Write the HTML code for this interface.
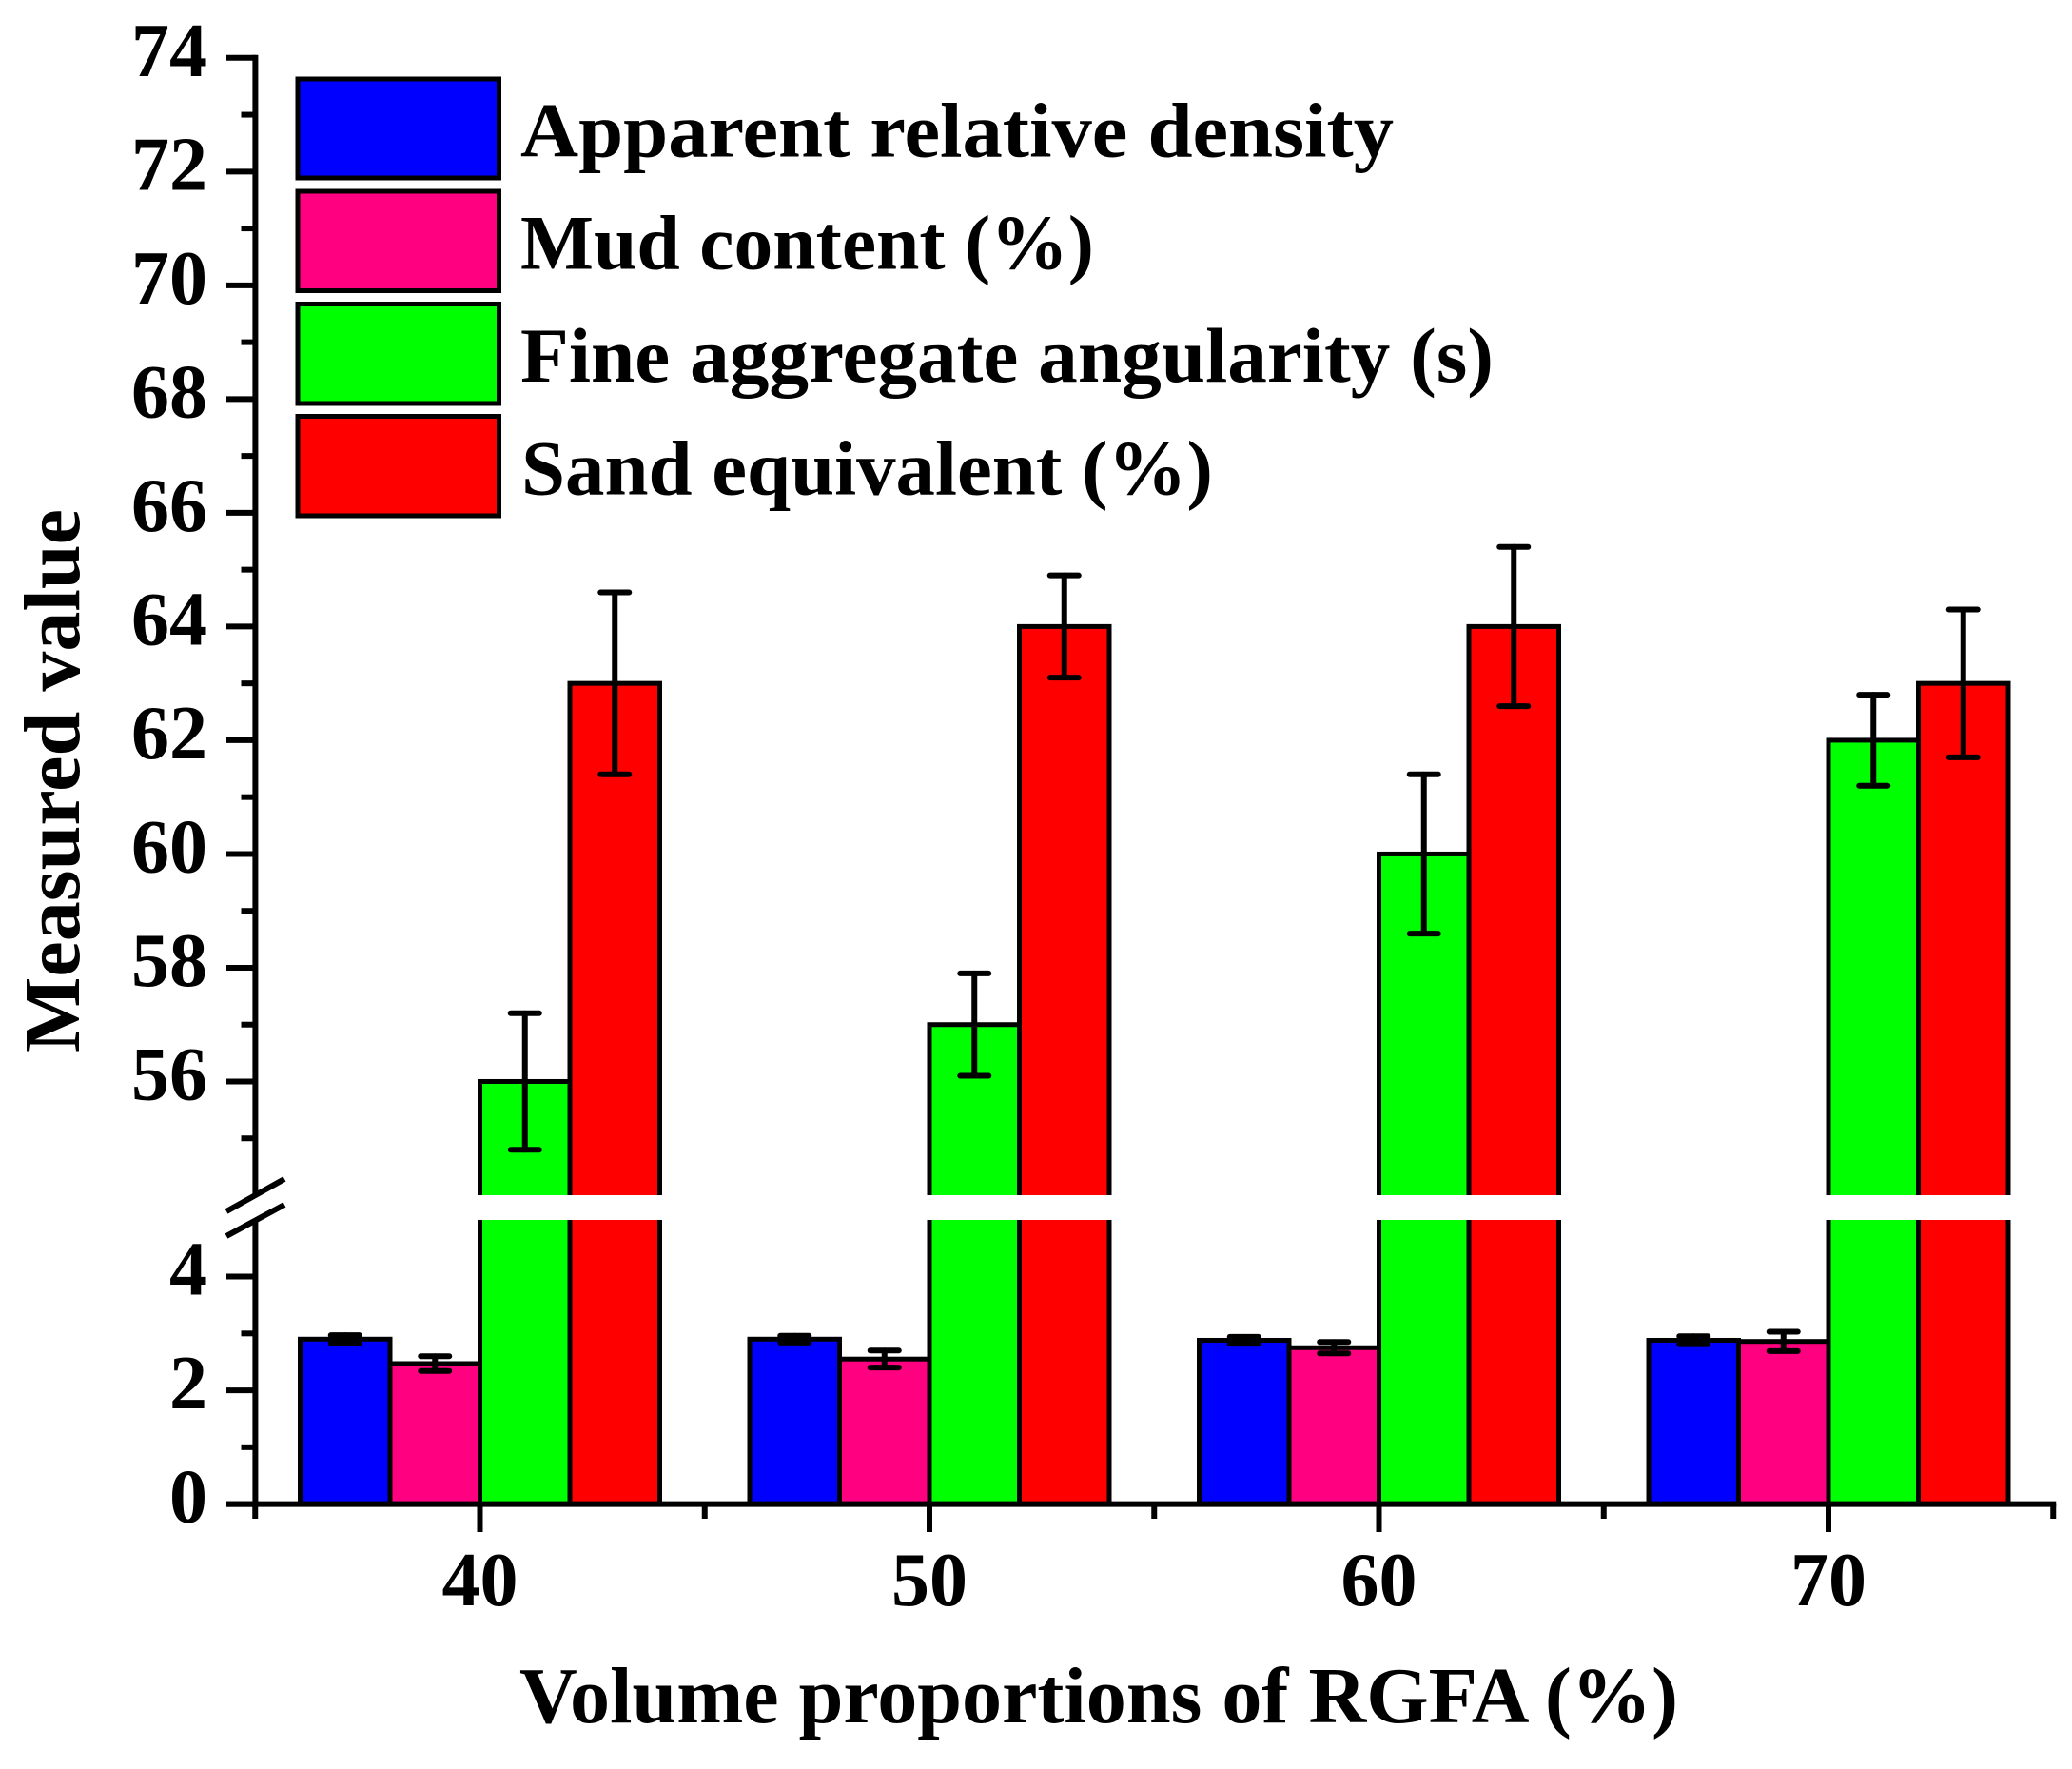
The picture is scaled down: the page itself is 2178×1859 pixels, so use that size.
<!DOCTYPE html>
<html lang="en">
<head>
<meta charset="utf-8">
<title>Measured value vs volume proportions of RGFA</title>
<style>
html,body{margin:0;padding:0;background:#fff;}
svg{display:block;}
text{font-family:"Liberation Serif",serif;font-weight:bold;fill:#000;}
</style>
</head>
<body>
<svg id="chart" xmlns="http://www.w3.org/2000/svg" width="2178" height="1859" viewBox="0 0 2178 1859">
  <rect x="0" y="0" width="2178" height="1859" fill="#fff"/>
  <g id="bars"></g>
  <g id="axes"></g>
  <g id="errors"></g>
  <g>
    <g>
      <rect x="313" y="83" width="211.5" height="104" fill="#0000ff" stroke="#000" stroke-width="5"/>
      <text x="547" y="164.5" font-size="82" textLength="918" lengthAdjust="spacingAndGlyphs">Apparent relative density</text>
    </g>
    <g>
      <rect x="313" y="201" width="211.5" height="104.5" fill="#ff0080" stroke="#000" stroke-width="5"/>
      <text x="547" y="282.5" font-size="82" textLength="603" lengthAdjust="spacingAndGlyphs">Mud content (%)</text>
    </g>
    <g>
      <rect x="313" y="319.5" width="211.5" height="104.5" fill="#00ff00" stroke="#000" stroke-width="5"/>
      <text x="547" y="401" font-size="82" textLength="1023" lengthAdjust="spacingAndGlyphs">Fine aggregate angularity (s)</text>
    </g>
    <g>
      <rect x="313" y="437.5" width="211.5" height="104.5" fill="#ff0000" stroke="#000" stroke-width="5"/>
      <text x="548" y="519.5" font-size="82" textLength="727" lengthAdjust="spacingAndGlyphs">Sand equivalent (%)</text>
    </g>
  </g>
  <text x="546" y="1810" font-size="84" textLength="1218" lengthAdjust="spacingAndGlyphs">Volume proportions of RGFA (%)</text>
  <text transform="translate(83,1106) rotate(-90)" x="0" y="0" font-size="84" textLength="571" lengthAdjust="spacingAndGlyphs">Measured value</text>
</svg>
<script>
var categories = [40, 50, 60, 70];
var seriesNames = ['apparent-relative-density', 'mud-content', 'fine-aggregate-angularity', 'sand-equivalent'];
var seriesColors = ['#0000ff', '#ff0080', '#00ff00', '#ff0000'];
var apparentDensity = [2.90, 2.90, 2.88, 2.88];
var mudContent = [2.47, 2.55, 2.75, 2.86];
var fineAngularity = [56, 57, 60, 62];
var sandEquivalent = [63, 64, 64, 63];
var apparentDensityErr = [0.07, 0.06, 0.06, 0.07];
var mudContentErr = [0.13, 0.15, 0.10, 0.17];
var fineAngularityErr = [1.2, 0.9, 1.4, 0.8];
var sandEquivalentErr = [1.6, 0.9, 1.4, 1.3];
var lowerMajorTicks = [0, 2, 4];
var lowerMinorTicks = [1, 3];
var upperMajorTicks = [56, 58, 60, 62, 64, 66, 68, 70, 72, 74];
var upperMinorTicks = [55, 57, 59, 61, 63, 65, 67, 69, 71, 73];
var xMinorTicks = [35, 45, 55, 65, 75];

var SVGNS = 'http://www.w3.org/2000/svg';
var gBars = document.getElementById('bars');
var gAxes = document.getElementById('axes');
var gErrors = document.getElementById('errors');
var allValues = [apparentDensity, mudContent, fineAngularity, sandEquivalent];
var allErrors = [apparentDensityErr, mudContentErr, fineAngularityErr, sandEquivalentErr];

var X0 = 504.5, XPER = 47.25, BARW = 94.5;
var Y_BASE = 1580.6, Y_TOP = 60.8, YPER = 59.76, BREAK_TOP = 1256, BREAK_BOTTOM = 1282;
var AXIS_X = 268.4;
function xScale(v) { return X0 + (v - 40) * XPER; }
function yScale(v) {
  return v < 30 ? Y_BASE - v * YPER : Y_TOP + (74 - v) * YPER;
}
function make(tag, attrs, parent) {
  var el = document.createElementNS(SVGNS, tag);
  for (var k in attrs) el.setAttribute(k, attrs[k]);
  parent.appendChild(el);
  return el;
}

/* bars */
categories.forEach(function (cat, c) {
  var left = xScale(cat) - 2 * BARW;
  allValues.forEach(function (vals, s) {
    var x = left + s * BARW;
    var bar = make('rect', {x: x, y: yScale(vals[c]), width: BARW, height: Y_BASE - yScale(vals[c]), fill: seriesColors[s], stroke: '#000', 'stroke-width': 5}, gBars);
    
    
  });
  var gap = make('rect', {x: left - 4, y: BREAK_TOP, width: 4 * BARW + 8, height: BREAK_BOTTOM - BREAK_TOP, fill: '#fff'}, gBars);
  
  
});

/* error bars */
categories.forEach(function (cat, c) {
  var left = xScale(cat) - 2 * BARW;
  allValues.forEach(function (vals, s) {
    var cx = left + (s + 0.5) * BARW;
    var g = make('g', {stroke: '#000', 'stroke-width': 6, 'stroke-linecap': 'round', fill: 'none'}, gErrors);
    
    
    var hi = yScale(vals[c] + allErrors[s][c]);
    var lo = yScale(vals[c] - allErrors[s][c]);
    make('line', {x1: cx, x2: cx, y1: hi, y2: lo}, g);
    make('line', {x1: cx - 15, x2: cx + 15, y1: hi, y2: hi}, g);
    make('line', {x1: cx - 15, x2: cx + 15, y1: lo, y2: lo}, g);
  });
});

/* axes lines */
var axisAttrs = {stroke: '#000', 'stroke-width': 6, fill: 'none'};
var yUp = make('line', Object.assign({x1: AXIS_X, x2: AXIS_X, y1: Y_TOP - 3, y2: BREAK_TOP}, axisAttrs), gAxes);


var yLow = make('line', Object.assign({x1: AXIS_X, x2: AXIS_X, y1: BREAK_BOTTOM, y2: Y_BASE + 3}, axisAttrs), gAxes);


var xLine = make('line', Object.assign({x1: 238, x2: xScale(75) + 3, y1: Y_BASE, y2: Y_BASE}, axisAttrs), gAxes);


var slashA = make('line', Object.assign({x1: 238, x2: 299, y1: 1273, y2: 1239}, axisAttrs), gAxes);


var slashB = make('line', Object.assign({x1: 238, x2: 299, y1: 1299, y2: 1266}, axisAttrs), gAxes);



/* ticks */
function yTick(v, major) {
  var y = yScale(v);
  var t = make('line', {x1: AXIS_X, x2: major ? 238 : 253.5, y1: y, y2: y, stroke: '#000', 'stroke-width': 6}, gAxes);
  
  
  if (major) {
    var lab = make('text', {x: 218, y: y + 19, 'font-size': 80, 'text-anchor': 'end'}, gAxes);
    lab.textContent = String(v);
    
    
  }
}
lowerMajorTicks.forEach(function (v) { yTick(v, true); });
lowerMinorTicks.forEach(function (v) { yTick(v, false); });
upperMajorTicks.forEach(function (v) { yTick(v, true); });
upperMinorTicks.forEach(function (v) { yTick(v, false); });

categories.forEach(function (cat) {
  var x = xScale(cat);
  var t = make('line', {x1: x, x2: x, y1: Y_BASE, y2: 1610, stroke: '#000', 'stroke-width': 6}, gAxes);
  
  
  var lab = make('text', {x: x, y: 1687, 'font-size': 80, 'text-anchor': 'middle'}, gAxes);
  lab.textContent = String(cat);
  
  
});
xMinorTicks.forEach(function (v) {
  var x = xScale(v);
  var t = make('line', {x1: x, x2: x, y1: Y_BASE, y2: 1596, stroke: '#000', 'stroke-width': 6}, gAxes);
  
  
});
</script>
</body>
</html>
